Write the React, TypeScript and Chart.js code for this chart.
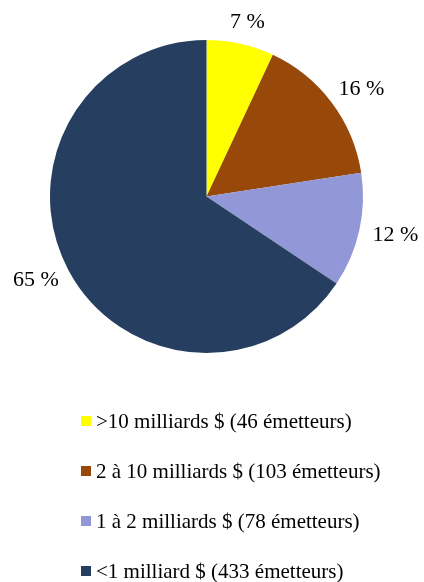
import React, { useEffect, useRef } from "react";
import { Chart, registerables } from "chart.js";

Chart.register(...registerables);

const categories = [
  ">10 milliards $ (46 émetteurs)",
  "2 à 10 milliards $ (103 émetteurs)",
  "1 à 2 milliards $ (78 émetteurs)",
  "<1 milliard $ (433 émetteurs)",
];
const issuerCounts = [46, 103, 78, 433];
const percentLabels = ["7 %", "16 %", "12 %", "65 %"];
const sliceColors = ["#FFFF00", "#984808", "#9297D7", "#263F61"];

const FONT = '"Liberation Serif", "Times New Roman", serif';

const outerLabels = {
  id: "outerLabels",
  afterDatasetsDraw(chart: any) {
    const ctx = chart.ctx;
    const meta = chart.getDatasetMeta(0);
    ctx.save();
    ctx.font = `22px ${FONT}`;
    ctx.fillStyle = "#000";
    ctx.textAlign = "center";
    ctx.textBaseline = "middle";
    meta.data.forEach((arc: any, i: number) => {
      const p = arc.getProps(["x", "y", "startAngle", "endAngle", "outerRadius"], true);
      const mid = (p.startAngle + p.endAngle) / 2;
      const c = Math.cos(mid);
      const s = Math.sin(mid);
      const d = p.outerRadius + 14;
      const text = percentLabels[i];
      const w = ctx.measureText(text).width;
      const h = 16;
      ctx.fillText(text, p.x + c * d + (c * w) / 2, p.y + s * d + (s * h) / 2);
    });
    ctx.restore();
  },
};

export default function App() {
  const ref = useRef<HTMLCanvasElement | null>(null);

  useEffect(() => {
    if (!ref.current) return;
    const chart = new Chart(ref.current, {
      type: "pie",
      data: {
        labels: categories,
        datasets: [
          {
            data: issuerCounts,
            backgroundColor: sliceColors,
            borderWidth: 0,
            hoverOffset: 0,
            offset: 0,
          },
        ],
      },
      options: {
        responsive: false,
        animation: false,
        layout: { padding: { left: 50, top: 40, right: 61, bottom: 229 } },
        plugins: {
          legend: { display: false },
          tooltip: { enabled: false },
        },
      },
      plugins: [outerLabels],
    });
    return () => chart.destroy();
  }, []);

  return (
    <div
      style={{
        position: "absolute",
        left: 0,
        top: 0,
        width: 424,
        height: 582,
        background: "#fff",
        overflow: "hidden",
      }}
    >
      <canvas
        ref={ref}
        width={424}
        height={582}
        style={{ position: "absolute", left: 0, top: 0, width: 424, height: 582 }}
      />
      {categories.map((cat, i) => (
        <div
          key={cat}
          style={{
            position: "absolute",
            left: 81,
            top: 396 + 50 * i,
            height: 50,
            display: "flex",
            alignItems: "center",
            fontFamily: FONT,
            fontSize: 21,
            lineHeight: 1,
            color: "#000",
            whiteSpace: "nowrap",
          }}
        >
          <span
            style={{
              display: "inline-block",
              width: 10,
              height: 10,
              background: sliceColors[i],
              marginRight: 5,
            }}
          />
          <span>{cat}</span>
        </div>
      ))}
    </div>
  );
}
